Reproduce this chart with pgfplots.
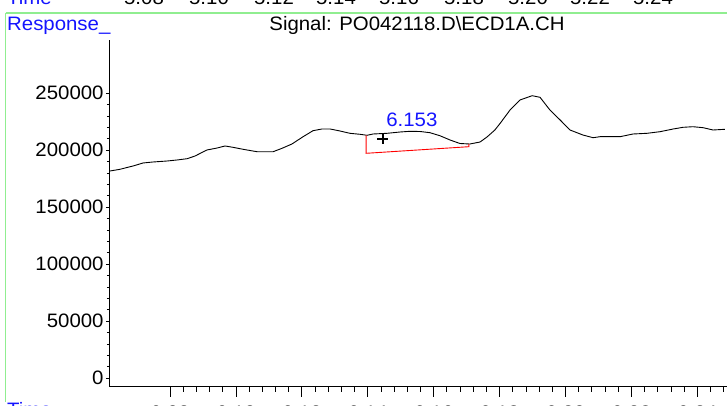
\documentclass[border=0pt]{standalone}
\usepackage{pgfplots}
\pgfplotsset{compat=1.18}
\usepackage{fontspec}
\setmainfont[FakeStretch=1.05]{Liberation Sans}

\definecolor{lightgreen}{RGB}{144,238,144}
\definecolor{labelblue}{RGB}{20,20,255}
\newcommand{\lbl}{\fontsize{19.5}{22}\selectfont}

\begin{document}
\begin{tikzpicture}
\useasboundingbox (0bp,0bp) rectangle (727bp,406bp);
\clip (0bp,0bp) rectangle (727bp,406bp);

% frame lines of the report page
\draw[lightgreen, line width=1.5bp] (5.5bp,393bp) -- (727bp,393bp);
\draw[lightgreen, line width=1.5bp] (5.5bp,393bp) -- (5.5bp,4bp);

% cut-off time row of the panel above
\node[anchor=base west, text=labelblue, font=\lbl, inner sep=0] at (7bp,401bp) {Time};
\foreach \px/\t in {144/5.08,209/5.10,274/5.12,336/5.14,399/5.16,464/5.18,528/5.20,590/5.22,653/5.24}
  \node[anchor=base, font=\lbl, inner sep=0] at (\px bp,401bp) {\t};

\node[anchor=base west, text=labelblue, font=\lbl, inner sep=0] at (7bp,375bp) {Response\_};
\node[anchor=base, font=\lbl, inner sep=0] at (417bp,375bp) {Signal: PO042118.D\textbackslash ECD1A.CH};
\node[anchor=base west, text=labelblue, font=\lbl, inner sep=0] at (7bp,-10bp) {Time};

\begin{axis}[
  at={(109bp,19.3bp)}, anchor=south west,
  scale only axis,
  width=626.1bp, height=346.7bp,
  xmin=6.06149, xmax=6.2515,
  ymin=-7630, ymax=296500,
  axis lines*=left,
  axis line style={black, line width=0.8bp},
  tick align=outside,
  tick style={black, line width=0.6bp},
  xtick={6.08,6.10,...,6.25},
  minor x tick num=4,
  ytick={0,50000,...,250000},
  minor y tick num=4,
  major x tick style={/pgfplots/major tick length=10bp},
  minor x tick style={/pgfplots/minor tick length=5bp},
  major y tick style={/pgfplots/major tick length=3bp},
  minor y tick style={/pgfplots/minor tick length=2bp},
  xticklabel style={yshift=-11bp, /pgf/number format/fixed, /pgf/number format/fixed zerofill, /pgf/number format/precision=2},
  yticklabel style={inner sep=1bp, /pgf/number format/fixed, /pgf/number format/1000 sep={}},
  scaled y ticks=false,
  /pgf/number format/assume math mode=true,
  tick label style={font=\lbl},
  clip=false,
]
\addplot[black, line width=0.9bp] coordinates {
(6.0618,181580) (6.0648,183070) (6.0688,185970) (6.0718,188600) (6.0748,189470)
(6.0791,190350) (6.0821,191230) (6.0852,192370) (6.0876,194740) (6.0912,200000)
(6.0943,201750) (6.0967,203510) (6.0991,202370) (6.1022,200610) (6.1064,198510)
(6.1113,198510) (6.1140,201490) (6.1170,205260) (6.1204,211670) (6.1234,216930)
(6.1261,218420) (6.1286,218420) (6.1316,216670) (6.1346,214650) (6.1377,213770)
(6.1398,212900) (6.1416,214040) (6.1459,214650) (6.1498,215790) (6.1528,216400)
(6.1559,216230) (6.1589,215180) (6.1619,212550) (6.1650,208770) (6.1680,205700)
(6.1710,205260) (6.1741,207020) (6.1762,211400) (6.1786,217550) (6.1802,223420)
(6.1832,235090) (6.1862,243860) (6.1899,247630) (6.1923,246230) (6.1953,235090)
(6.1984,226320) (6.2014,217550) (6.2053,213160) (6.2084,210790) (6.2105,211670)
(6.2166,211670) (6.2205,214040) (6.2248,214650) (6.2287,216050) (6.2327,218420)
(6.2357,219910) (6.2387,220440) (6.2418,219570) (6.2448,217550) (6.2484,218160)
};
% integration baseline
\addplot[red, line width=0.9bp] coordinates {
(6.1395,212900) (6.1395,197100) (6.1707,202900) (6.1707,205300)
};
% apex marker
\addplot[black, only marks, mark=+, mark size=5.5bp, line width=1.6bp] coordinates {(6.1446,209800)};
\node[text=labelblue, font=\lbl, inner sep=0] at (axis cs:6.1534,226300) {6.153};
\end{axis}
\end{tikzpicture}
\end{document}
